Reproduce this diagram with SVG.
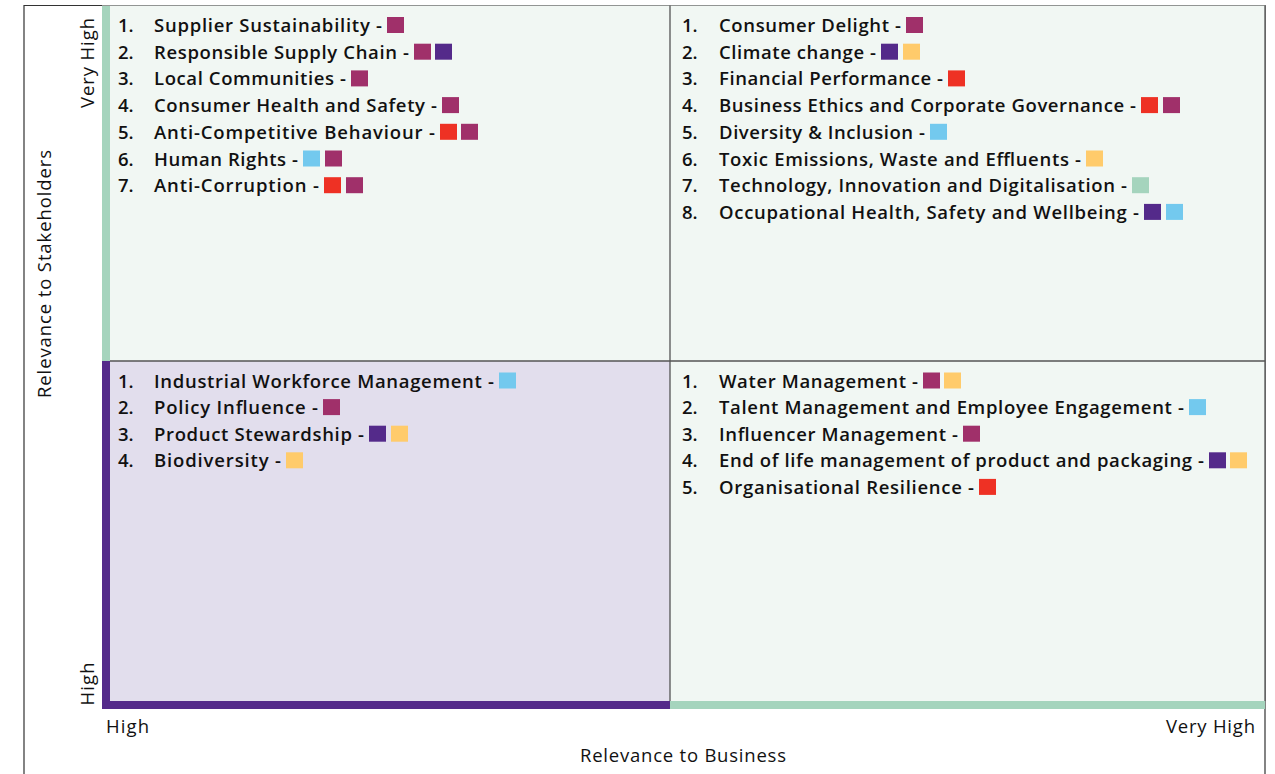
<svg xmlns="http://www.w3.org/2000/svg" width="1275" height="774" viewBox="0 0 1275 774">
  <style>
    .item { font-family: "Open Sans", "Noto Sans", sans-serif; font-size: 18.5px; font-weight: 600; fill: #111; transform: translateY(1px); }
    .axis { font-family: "Open Sans", "Noto Sans", sans-serif; font-size: 18.5px; fill: #111; }
    .quad-light { fill: #f1f7f3; }
    .quad-lilac { fill: #e2deed; }
    .grid { stroke: #555; stroke-width: 1.3; fill: none; }
    .frame { stroke: #333; stroke-width: 1.2; fill: none; }
    .m { fill: #a0306a; }
    .p { fill: #542a8a; }
    .r { fill: #ee3124; }
    .b { fill: #73c9ee; }
    .y { fill: #ffcb6b; }
    .g { fill: #a5d4bd; }
  </style>

  <rect width="1275" height="774" fill="#ffffff"/>

  <!-- outer frame -->
  <path class="frame" d="M24 774 V5.5 H1265 V774"/>

  <!-- quadrant backgrounds -->
  <rect class="quad-light" x="102" y="5.5" width="568" height="355.5"/>
  <rect class="quad-light" x="670" y="5.5" width="595" height="355.5"/>
  <rect class="quad-lilac" x="102" y="361" width="568" height="340"/>
  <rect class="quad-light" x="670" y="361" width="595" height="340"/>

  <!-- grid lines -->
  <path class="grid" d="M670 5.5 V701 M102 361 H1265 M1265 5.5 V701"/>

  <!-- axis bars -->
  <rect class="g" x="102" y="6" width="8" height="355"/>
  <rect class="p" x="102" y="361" width="8" height="348"/>
  <rect class="p" x="102" y="701" width="568" height="8"/>
  <rect class="g" x="670" y="701" width="595" height="8"/>

  <!-- axis labels -->
  <g id="axis-labels">
    <text class="axis" transform="translate(51 274) rotate(-90)" text-anchor="middle" textLength="248">Relevance to Stakeholders</text>
    <text class="axis" transform="translate(94 63) rotate(-90)" text-anchor="middle" textLength="90">Very High</text>
    <text class="axis" transform="translate(94 684) rotate(-90)" text-anchor="middle" textLength="43">High</text>
    <text class="axis" x="106" y="733" textLength="43">High</text>
    <text class="axis" x="1255" y="733" text-anchor="end" textLength="89">Very High</text>
    <text class="axis" x="683" y="762" text-anchor="middle" textLength="206">Relevance to Business</text>
  </g>

  <!-- top-left: very high stakeholder, high business -->
  <g id="quadrant-top-left">
    <text class="item" x="118" y="31">1.</text><text class="item" x="154" y="31" textLength="228">Supplier Sustainability -</text>
    <rect class="m" x="387" y="17" width="17" height="16"/>
    <text class="item" x="118" y="57.7">2.</text><text class="item" x="154" y="57.7" textLength="255">Responsible Supply Chain -</text>
    <rect class="m" x="414" y="43.7" width="17" height="16"/><rect class="p" x="435" y="43.7" width="17" height="16"/>
    <text class="item" x="118" y="84.4">3.</text><text class="item" x="154" y="84.4" textLength="192">Local Communities -</text>
    <rect class="m" x="351" y="70.4" width="17" height="16"/>
    <text class="item" x="118" y="111.1">4.</text><text class="item" x="154" y="111.1" textLength="283">Consumer Health and Safety -</text>
    <rect class="m" x="442" y="97.1" width="17" height="16"/>
    <text class="item" x="118" y="137.8">5.</text><text class="item" x="154" y="137.8" textLength="281">Anti-Competitive Behaviour -</text>
    <rect class="r" x="440" y="123.8" width="17" height="16"/><rect class="m" x="461" y="123.8" width="17" height="16"/>
    <text class="item" x="118" y="164.5">6.</text><text class="item" x="154" y="164.5" textLength="144">Human Rights -</text>
    <rect class="b" x="303" y="150.5" width="17" height="16"/><rect class="m" x="325" y="150.5" width="17" height="16"/>
    <text class="item" x="118" y="191.2">7.</text><text class="item" x="154" y="191.2" textLength="165">Anti-Corruption -</text>
    <rect class="r" x="324" y="177.2" width="17" height="16"/><rect class="m" x="346" y="177.2" width="17" height="16"/>
  </g>

  <!-- top-right: very high stakeholder, very high business -->
  <g id="quadrant-top-right">
    <text class="item" x="682" y="31">1.</text><text class="item" x="719" y="31" textLength="182">Consumer Delight -</text>
    <rect class="m" x="906" y="17" width="17" height="16"/>
    <text class="item" x="682" y="57.7">2.</text><text class="item" x="719" y="57.7" textLength="157">Climate change -</text>
    <rect class="p" x="881" y="43.7" width="17" height="16"/><rect class="y" x="903" y="43.7" width="17" height="16"/>
    <text class="item" x="682" y="84.4">3.</text><text class="item" x="719" y="84.4" textLength="224">Financial Performance -</text>
    <rect class="r" x="948" y="70.4" width="17" height="16"/>
    <text class="item" x="682" y="111.1">4.</text><text class="item" x="719" y="111.1" textLength="417">Business Ethics and Corporate Governance -</text>
    <rect class="r" x="1141" y="97.1" width="17" height="16"/><rect class="m" x="1163" y="97.1" width="17" height="16"/>
    <text class="item" x="682" y="137.8">5.</text><text class="item" x="719" y="137.8" textLength="206">Diversity &amp; Inclusion -</text>
    <rect class="b" x="930" y="123.8" width="17" height="16"/>
    <text class="item" x="682" y="164.5">6.</text><text class="item" x="719" y="164.5" textLength="362">Toxic Emissions, Waste and Effluents -</text>
    <rect class="y" x="1086" y="150.5" width="17" height="16"/>
    <text class="item" x="682" y="191.2">7.</text><text class="item" x="719" y="191.2" textLength="408">Technology, Innovation and Digitalisation -</text>
    <rect class="g" x="1132" y="177.2" width="17" height="16"/>
    <text class="item" x="682" y="217.9">8.</text><text class="item" x="719" y="217.9" textLength="420">Occupational Health, Safety and Wellbeing -</text>
    <rect class="p" x="1144" y="203.9" width="17" height="16"/><rect class="b" x="1166" y="203.9" width="17" height="16"/>
  </g>

  <!-- bottom-left: high stakeholder, high business -->
  <g id="quadrant-bottom-left">
    <text class="item" x="118" y="386.5">1.</text><text class="item" x="154" y="386.5" textLength="340">Industrial Workforce Management -</text>
    <rect class="b" x="499" y="372.5" width="17" height="16"/>
    <text class="item" x="118" y="413.1">2.</text><text class="item" x="154" y="413.1" textLength="164">Policy Influence -</text>
    <rect class="m" x="323" y="399.1" width="17" height="16"/>
    <text class="item" x="118" y="439.7">3.</text><text class="item" x="154" y="439.7" textLength="210">Product Stewardship -</text>
    <rect class="p" x="369" y="425.7" width="17" height="16"/><rect class="y" x="391" y="425.7" width="17" height="16"/>
    <text class="item" x="118" y="466.3">4.</text><text class="item" x="154" y="466.3" textLength="127">Biodiversity -</text>
    <rect class="y" x="286" y="452.3" width="17" height="16"/>
  </g>

  <!-- bottom-right: high stakeholder, very high business -->
  <g id="quadrant-bottom-right">
    <text class="item" x="682" y="386.5">1.</text><text class="item" x="719" y="386.5" textLength="199">Water Management -</text>
    <rect class="m" x="923" y="372.5" width="17" height="16"/><rect class="y" x="944" y="372.5" width="17" height="16"/>
    <text class="item" x="682" y="413.1">2.</text><text class="item" x="719" y="413.1" textLength="465">Talent Management and Employee Engagement -</text>
    <rect class="b" x="1189" y="399.1" width="17" height="16"/>
    <text class="item" x="682" y="439.7">3.</text><text class="item" x="719" y="439.7" textLength="239">Influencer Management -</text>
    <rect class="m" x="963" y="425.7" width="17" height="16"/>
    <text class="item" x="682" y="466.3">4.</text><text class="item" x="719" y="466.3" textLength="485">End of life management of product and packaging -</text>
    <rect class="p" x="1209" y="452.3" width="17" height="16"/><rect class="y" x="1230" y="452.3" width="17" height="16"/>
    <text class="item" x="682" y="492.9">5.</text><text class="item" x="719" y="492.9" textLength="255">Organisational Resilience -</text>
    <rect class="r" x="979" y="478.9" width="17" height="16"/>
  </g>
</svg>
